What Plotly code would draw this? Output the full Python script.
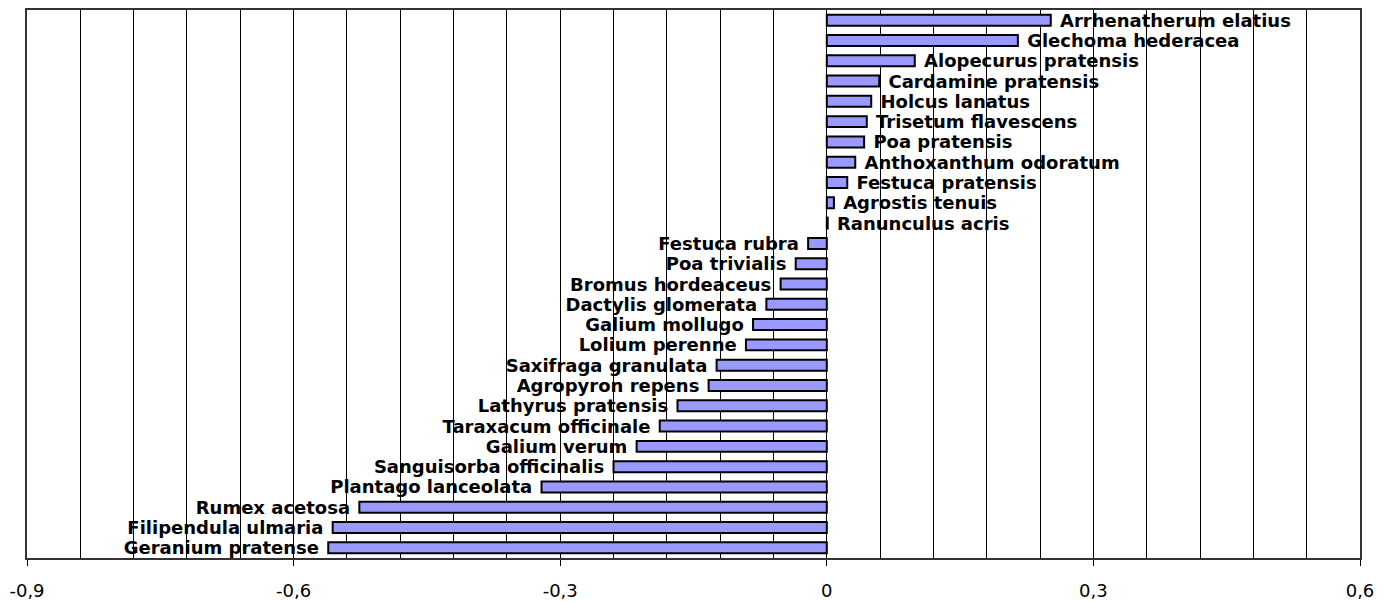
import plotly.graph_objects as go

# species, top to bottom as they appear in the chart
species = [
    "Arrhenatherum elatius", "Glechoma hederacea", "Alopecurus pratensis",
    "Cardamine pratensis", "Holcus lanatus", "Trisetum flavescens",
    "Poa pratensis", "Anthoxanthum odoratum", "Festuca pratensis",
    "Agrostis tenuis", "Ranunculus acris", "Festuca rubra", "Poa trivialis",
    "Bromus hordeaceus", "Dactylis glomerata", "Galium mollugo",
    "Lolium perenne", "Saxifraga granulata", "Agropyron repens",
    "Lathyrus pratensis", "Taraxacum officinale", "Galium verum",
    "Sanguisorba officinalis", "Plantago lanceolata", "Rumex acetosa",
    "Filipendula ulmaria", "Geranium pratense",
]
values = [
    0.252, 0.215, 0.099, 0.059, 0.050, 0.045, 0.042, 0.032, 0.023, 0.008,
    0.001, -0.021, -0.035, -0.052, -0.068, -0.083, -0.091, -0.124, -0.133,
    -0.168, -0.188, -0.214, -0.240, -0.321, -0.526, -0.556, -0.561,
]
tick_vals = [-0.9, -0.6, -0.3, 0, 0.3, 0.6]
tick_text = ["-0,9", "-0,6", "-0,3", "0", "0,3", "0,6"]

# a non-breaking space keeps a small gap between bar end and label
labels = ["\u00a0" + s if v >= 0 else s + "\u00a0" for s, v in zip(species, values)]

fig = go.Figure(go.Bar(
    x=values, y=species, orientation="h",
    width=0.54,
    marker=dict(color="#9999FF", line=dict(color="black", width=2)),
    text=labels, textposition="outside", cliponaxis=False,
    textfont=dict(family="DejaVu Sans", size=18, color="black", weight="bold"),
    hoverinfo="x+y",
))

# page body has an 8px margin, so margins are shifted by 8px
fig.update_layout(
    width=1374, height=594,
    margin=dict(l=19, r=22, t=2, b=44),
    paper_bgcolor="white", plot_bgcolor="white",
    showlegend=False,
    font=dict(family="DejaVu Sans", size=18, color="black"),
    uniformtext=dict(minsize=18, mode="show"),
)
fig.update_xaxes(
    range=[-0.9, 0.6], tickvals=tick_vals, ticktext=tick_text,
    ticks="outside", ticklen=6, tickcolor="black", tickwidth=1,
    ticklabelstandoff=9, automargin=False,
    showgrid=True, gridcolor="black", gridwidth=1,
    minor=dict(dtick=0.06, tick0=0, showgrid=True, gridcolor="black", gridwidth=1),
    zeroline=False,
    showline=True, linecolor="#333333", linewidth=2, mirror=True,
    tickfont=dict(size=18),
)
fig.update_yaxes(
    categoryorder="array", categoryarray=species, autorange="reversed",
    showticklabels=False, showgrid=False, ticks="", automargin=False,
    showline=True, linecolor="#333333", linewidth=2, mirror=True,
)

fig.write_html("out.html")
